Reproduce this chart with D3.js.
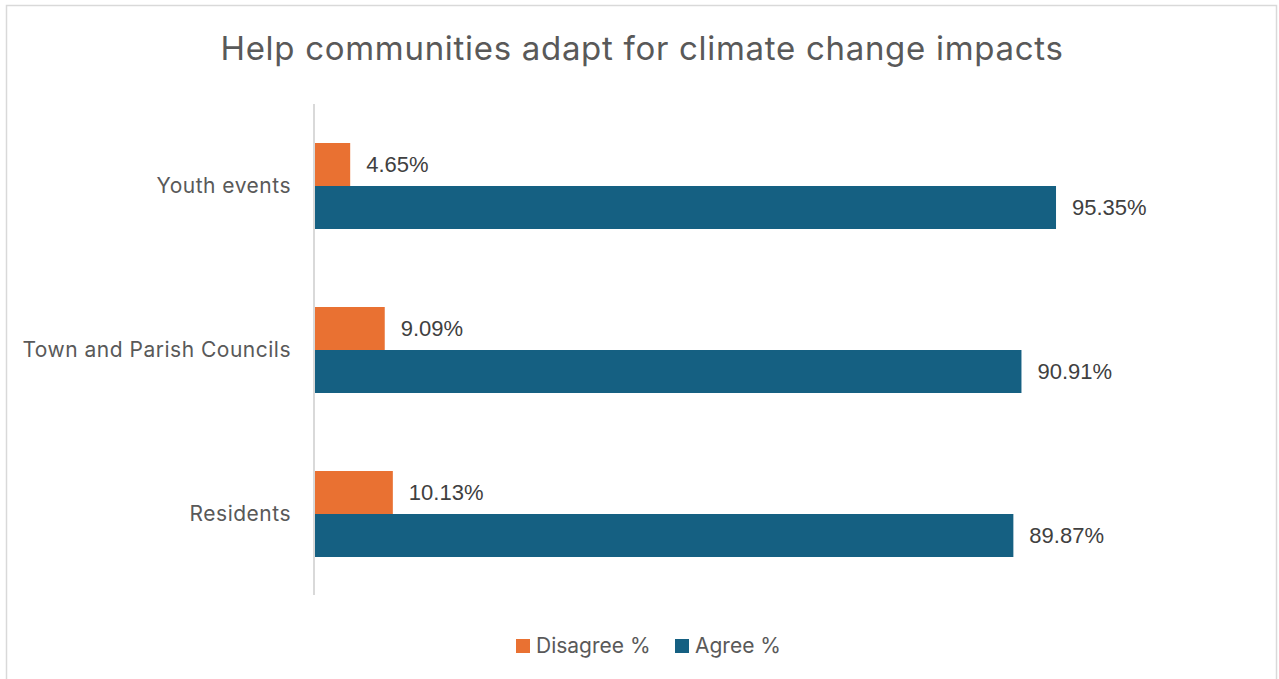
<!DOCTYPE html>
<html>
<head>
<meta charset="utf-8">
<script src="https://cdn.jsdelivr.net/npm/d3@7"></script>
<style>
  body { margin: 0; background: #fff; }
</style>
</head>
<body>
<div id="chart"></div>
<script>
// Chart data
const categories = ["Youth events", "Town and Parish Councils", "Residents"];
const disagree = [4.65, 9.09, 10.13];
const agree = [95.35, 90.91, 89.87];
const seriesNames = ["Disagree %", "Agree %"];
const seriesColors = ["#E97132", "#156082"];

const W = 1279, H = 679;
const margin = { top: 104, left: 314, bottom: 84, right: 187 };

const svg = d3.select("#chart").append("svg")
    .attr("width", W)
    .attr("height", H);

// Chart frame
svg.append("rect")
    .attr("x", 6.5).attr("y", 5.5)
    .attr("width", W - 9).attr("height", H + 10)
    .attr("fill", "#fff")
    .attr("stroke", "#d9d9d9")
    .attr("stroke-width", 1.5);

// Title
svg.append("text")
    .attr("x", 642).attr("y", 60)
    .attr("text-anchor", "middle")
    .style("font-family", "Inter, 'Open Sans', sans-serif")
    .style("font-size", "33px")
    .style("letter-spacing", "0.7px")
    .attr("fill", "#595959")
    .text("Help communities adapt for climate change impacts");

const g = svg.append("g")
    .attr("transform", `translate(${margin.left},${margin.top})`);

// Scales
const x = d3.scaleLinear().domain([0, 100]).range([0, 778.2]);
const y = d3.scaleBand().domain(categories).range([0, 492]);
const sub = d3.scaleBand().domain(seriesNames).range([39, 125]);

const rows = categories.map((c, i) => ({ cat: c, vals: [disagree[i], agree[i]] }));

const groups = g.selectAll("g.cat")
    .data(rows)
    .enter().append("g")
    .attr("class", "cat")
    .attr("transform", d => `translate(0,${y(d.cat)})`);

groups.selectAll("rect")
    .data(d => d.vals.map((v, j) => ({ v, s: seriesNames[j], c: seriesColors[j] })))
    .enter().append("rect")
    .attr("x", 0)
    .attr("y", d => sub(d.s))
    .attr("width", d => x(d.v))
    .attr("height", sub.bandwidth())
    .attr("fill", d => d.c);

// Data labels
groups.selectAll("text.val")
    .data(d => d.vals.map((v, j) => ({ v, s: seriesNames[j] })))
    .enter().append("text")
    .attr("class", "val")
    .attr("x", d => x(d.v) + 16)
    .attr("y", d => sub(d.s) + sub.bandwidth() / 2)
    .attr("dy", "0.35em")
    .style("font-family", "'Liberation Sans', Arial, sans-serif")
    .style("font-size", "22px")
    .attr("fill", "#404040")
    .text(d => d.v.toFixed(2) + "%");

// Category axis
const yAxis = g.append("g")
    .call(d3.axisLeft(y).tickSize(0).tickPadding(23));
yAxis.select(".domain")
    .attr("stroke", "#d9d9d9")
    .attr("stroke-width", 2)
    .attr("d", `M0,0V${491}`);
yAxis.selectAll("text")
    .style("font-family", "Inter, 'Open Sans', sans-serif")
    .style("font-size", "21px")
    .style("letter-spacing", "0.5px")
    .attr("fill", "#595959");

// Legend
const legendX = [516, 675];
const legend = svg.append("g");
seriesNames.forEach((name, i) => {
    legend.append("rect")
        .attr("x", legendX[i]).attr("y", 639)
        .attr("width", 14).attr("height", 14)
        .attr("fill", seriesColors[i]);
    legend.append("text")
        .attr("x", legendX[i] + 20).attr("y", 646)
        .attr("dy", "0.35em")
        .style("font-family", "Inter, 'Open Sans', sans-serif")
        .style("font-size", "21px")
        .attr("fill", "#595959")
        .text(name);
});
</script>
</body>
</html>
